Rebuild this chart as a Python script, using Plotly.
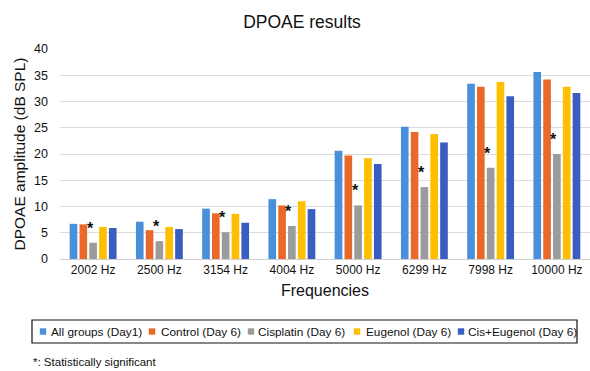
import plotly.graph_objects as go

# ---- data ----
frequencies = ["2002 Hz", "2500 Hz", "3154 Hz", "4004 Hz", "5000 Hz", "6299 Hz", "7998 Hz", "10000 Hz"]
series_names = ["All groups (Day1)", "Control (Day 6)", "Cisplatin (Day 6)", "Eugenol (Day 6)", "Cis+Eugenol (Day 6)"]
all_groups_day1 = [6.7, 7.1, 9.6, 11.4, 20.6, 25.2, 33.4, 35.6]
control_day6 = [6.6, 5.5, 8.7, 10.2, 19.7, 24.2, 32.8, 34.2]
cisplatin_day6 = [3.1, 3.4, 5.1, 6.3, 10.2, 13.7, 17.4, 20.0]
eugenol_day6 = [6.1, 6.1, 8.6, 11.0, 19.2, 23.8, 33.7, 32.8]
cis_eugenol_day6 = [5.9, 5.7, 6.9, 9.5, 18.1, 22.2, 31.0, 31.6]
significant = [True, True, True, True, True, True, True, True]  # cisplatin group
y_ticks = [0, 5, 10, 15, 20, 25, 30, 35, 40]

series_values = [all_groups_day1, control_day6, cisplatin_day6, eugenol_day6, cis_eugenol_day6]
colors = ["#4A8FDA", "#E8692A", "#9B9B9B", "#FFBF00", "#3A5EBF"]

FONT = "Liberation Sans, Arial, Helvetica, sans-serif"
W, H = 590, 371
ML, MR, MT, MB = 60, 0, 49, 112

fig = go.Figure()
for name, vals, col in zip(series_names, series_values, colors):
    fig.add_trace(go.Bar(x=frequencies, y=vals, name=name, marker_color=col,
                         marker_line_width=0, showlegend=False))

# significance stars above the cisplatin bars
for f, v, s in zip(frequencies, cisplatin_day6, significant):
    if s:
        fig.add_annotation(x=f, y=v, xref="x", yref="y", text="<b>*</b>", showarrow=False,
                           yanchor="bottom", xanchor="center", xshift=-3, yshift=4,
                           font=dict(family=FONT, size=16, color="#111111"))

# custom legend
pw, ph = W - ML - MR, H - MT - MB
def px_x(px):
    return (px - ML) / pw
def px_y(py):
    return (H - MB - py) / ph

box_x0, box_x1, box_y0, box_y1 = 32, 577, 320, 343
fig.add_shape(type="rect", xref="paper", yref="paper",
              x0=px_x(box_x0), x1=px_x(box_x1), y0=px_y(box_y1), y1=px_y(box_y0),
              line=dict(color="#111111", width=1.2), fillcolor="rgba(0,0,0,0)")
square_centers = [43, 152, 251, 357, 461]
text_starts = [49, 159, 256, 364, 466]
cy = (box_y0 + box_y1) / 2
sq = 3.2
for name, col, sc, ts in zip(series_names, colors, square_centers, text_starts):
    fig.add_shape(type="rect", xref="paper", yref="paper",
                  x0=px_x(sc - sq), x1=px_x(sc + sq), y0=px_y(cy + sq), y1=px_y(cy - sq),
                  line=dict(width=0), fillcolor=col)
    fig.add_annotation(x=px_x(ts), y=px_y(cy), xref="paper", yref="paper", text=name,
                       showarrow=False, xanchor="left", yanchor="middle",
                       font=dict(family=FONT, size=11.8, color="#111111"))

fig.add_annotation(x=px_x(31), y=px_y(362), xref="paper", yref="paper",
                   text="*: Statistically significant", showarrow=False,
                   xanchor="left", yanchor="middle",
                   font=dict(family=FONT, size=11.5, color="#111111"))

fig.update_layout(
    width=W, height=H,
    margin=dict(l=ML, r=MR, t=MT, b=MB),
    paper_bgcolor="white", plot_bgcolor="white",
    barmode="group", bargap=0.26, bargroupgap=0.22,
    title=dict(text="DPOAE results", x=302 / W, xref="container", xanchor="center",
               y=1 - 22 / H, yref="container", yanchor="middle",
               font=dict(family=FONT, size=17.5, color="#111111")),
    font=dict(family=FONT, color="#111111"),
)
fig.update_yaxes(range=[0, 40], tickvals=y_ticks, showgrid=True, gridcolor="#DCDCDC",
                 gridwidth=1, zeroline=False, showline=False, ticks="",
                 ticklabelstandoff=11, tickfont=dict(family=FONT, size=12.5, color="#111111"),
                 title=dict(text="DPOAE amplitude (dB SPL)", standoff=4,
                            font=dict(family=FONT, size=15.5, color="#111111")))
fig.update_xaxes(showline=True, linecolor="#CFCFCF", linewidth=1, ticks="",
                 tickfont=dict(family=FONT, size=12, color="#111111"),
                 title=dict(text="Frequencies", standoff=8,
                            font=dict(family=FONT, size=16, color="#111111")))

fig.write_html("out.html", config={"displayModeBar": False},
               post_script="document.body.style.margin='0';document.body.style.overflow='hidden';")
